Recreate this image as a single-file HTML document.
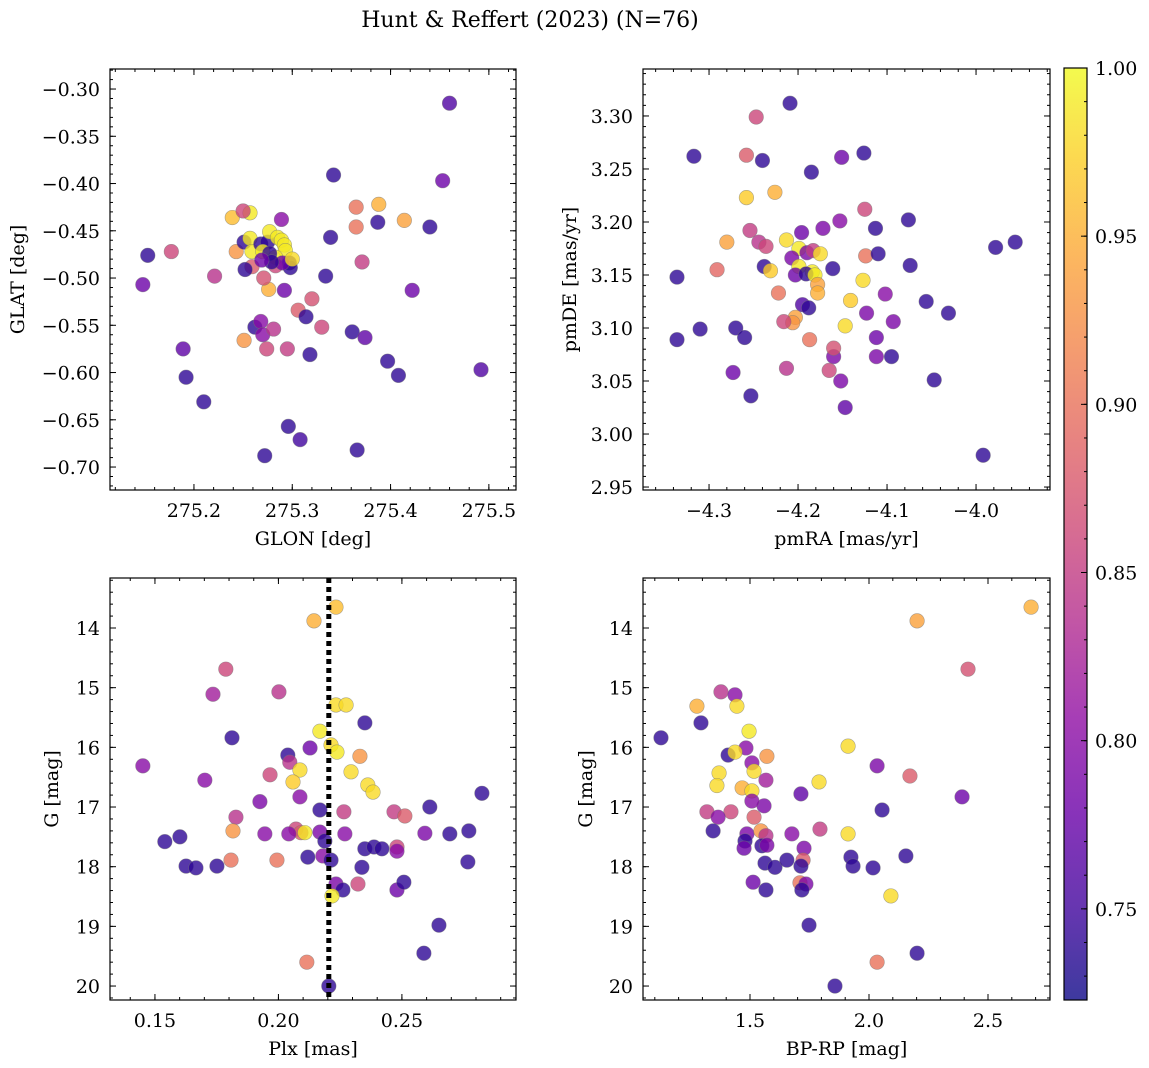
<!DOCTYPE html>
<html><head><meta charset="utf-8"><style>
html,body{margin:0;padding:0;background:#fff}
svg{display:block;font-family:"DejaVu Serif","Liberation Serif",serif}
</style></head><body>
<svg id="fig" width="1149" height="1068" viewBox="0 0 1149 1068" xmlns="http://www.w3.org/2000/svg">
<defs>
<linearGradient id="plasma" x1="0" y1="1" x2="0" y2="0">
<stop offset="0" stop-color="#0d0887"/><stop offset="0.1" stop-color="#41049d"/><stop offset="0.2" stop-color="#6a00a8"/><stop offset="0.3" stop-color="#8f0da4"/><stop offset="0.4" stop-color="#b12a90"/><stop offset="0.5" stop-color="#cc4778"/><stop offset="0.6" stop-color="#e16462"/><stop offset="0.7" stop-color="#f2844b"/><stop offset="0.8" stop-color="#fca636"/><stop offset="0.9" stop-color="#fcce25"/><stop offset="1" stop-color="#f0f921"/>
</linearGradient>
</defs>
<text x="530" y="27" font-size="22" text-anchor="middle">Hunt &amp; Reffert (2023) (N=76)</text>
</svg>
<script>
// ---- data ----
const tlGlon=[275.460,275.453,275.342,275.440,275.414,275.388,275.365,275.365,275.387,275.339,275.371,275.422,275.334,275.320,275.306,275.314,275.330,275.361,275.374,275.318,275.397,275.408,275.492,275.366,275.308,275.296,275.272,275.210,275.192,275.189,275.148,275.153,275.177,275.221,275.251,275.262,275.268,275.270,275.274,275.281,275.295,275.292,275.276,275.271,275.259,275.239,275.257,275.250,275.243,275.251,275.252,275.257,275.259,275.268,275.275,275.270,275.277,275.285,275.289,275.292,275.293,275.283,275.289,275.297,275.298,275.283,275.290,275.277,275.300,275.279,275.269];
const tlGlat=[-0.315,-0.397,-0.391,-0.446,-0.439,-0.422,-0.425,-0.446,-0.441,-0.457,-0.483,-0.513,-0.498,-0.522,-0.534,-0.541,-0.552,-0.557,-0.563,-0.581,-0.588,-0.603,-0.597,-0.682,-0.671,-0.657,-0.688,-0.631,-0.605,-0.575,-0.507,-0.476,-0.472,-0.498,-0.566,-0.552,-0.546,-0.560,-0.575,-0.554,-0.575,-0.513,-0.512,-0.500,-0.488,-0.436,-0.431,-0.429,-0.472,-0.462,-0.491,-0.458,-0.472,-0.464,-0.462,-0.472,-0.451,-0.457,-0.460,-0.465,-0.471,-0.478,-0.438,-0.484,-0.489,-0.487,-0.484,-0.474,-0.480,-0.483,-0.481];
const tlProb=[0.76,0.78,0.74,0.74,0.94,0.95,0.90,0.90,0.74,0.74,0.85,0.78,0.74,0.87,0.88,0.74,0.86,0.74,0.77,0.74,0.74,0.74,0.76,0.74,0.75,0.74,0.74,0.74,0.74,0.77,0.78,0.74,0.86,0.84,0.93,0.74,0.80,0.80,0.86,0.84,0.85,0.78,0.95,0.87,0.88,0.96,0.99,0.86,0.93,0.74,0.74,0.99,0.99,0.74,0.74,0.99,0.99,0.99,0.99,0.99,0.99,0.99,0.80,0.74,0.74,0.86,0.78,0.74,0.98,0.74,0.78];

const trPmra=[-4.209,-4.247,-4.317,-4.258,-4.240,-4.226,-4.258,-4.185,-4.151,-4.126,-4.125,-4.153,-4.076,-4.113,-4.172,-4.196,-4.254,-4.244,-4.236,-4.280,-4.213,-4.199,-4.190,-4.183,-4.207,-4.175,-4.199,-4.184,-4.238,-4.231,-4.203,-4.191,-4.181,-4.161,-4.178,-4.178,-4.124,-4.110,-4.074,-4.127,-4.141,-4.102,-4.056,-4.031,-4.093,-4.123,-4.112,-4.195,-4.188,-4.222,-4.203,-4.206,-4.216,-4.147,-4.187,-4.160,-4.160,-4.112,-4.095,-4.165,-4.213,-4.152,-4.147,-4.270,-4.260,-4.273,-4.253,-4.291,-4.336,-4.310,-4.336,-4.047,-3.978,-3.956,-3.992];
const trPmde=[3.312,3.299,3.262,3.263,3.258,3.228,3.223,3.247,3.261,3.265,3.212,3.201,3.202,3.194,3.194,3.190,3.192,3.181,3.177,3.181,3.183,3.175,3.171,3.173,3.166,3.170,3.158,3.153,3.158,3.154,3.150,3.151,3.150,3.156,3.141,3.133,3.168,3.170,3.159,3.145,3.126,3.132,3.125,3.114,3.106,3.114,3.091,3.122,3.119,3.133,3.110,3.105,3.106,3.102,3.089,3.073,3.081,3.073,3.073,3.060,3.062,3.050,3.025,3.100,3.091,3.058,3.036,3.155,3.148,3.099,3.089,3.051,3.176,3.181,2.980];
const trProb=[0.74,0.86,0.74,0.88,0.74,0.95,0.97,0.74,0.78,0.74,0.86,0.80,0.74,0.74,0.79,0.78,0.85,0.84,0.86,0.94,0.98,0.99,0.79,0.85,0.79,0.98,0.99,0.99,0.74,0.97,0.78,0.74,0.99,0.74,0.94,0.95,0.90,0.74,0.74,0.98,0.97,0.80,0.74,0.74,0.79,0.79,0.78,0.76,0.74,0.90,0.94,0.93,0.86,0.98,0.90,0.79,0.87,0.79,0.74,0.86,0.84,0.79,0.77,0.74,0.74,0.78,0.74,0.89,0.74,0.74,0.74,0.74,0.74,0.74,0.74];

const blPlx=[0.2233,0.2144,0.1787,0.1735,0.2002,0.2233,0.2274,0.2350,0.2168,0.2213,0.2237,0.2128,0.1812,0.2038,0.2046,0.2330,0.2294,0.2087,0.2059,0.1966,0.1451,0.1702,0.2362,0.2383,0.2087,0.1925,0.2824,0.2613,0.2168,0.2265,0.2468,0.2512,0.1828,0.1816,0.1945,0.2071,0.2091,0.2042,0.2107,0.2168,0.2188,0.2269,0.2350,0.2387,0.2419,0.2480,0.2480,0.2593,0.2694,0.2771,0.1540,0.1601,0.1626,0.1666,0.1751,0.1808,0.1994,0.2119,0.2180,0.2213,0.2338,0.2767,0.2233,0.2261,0.2322,0.2480,0.2508,0.2217,0.2650,0.2589,0.2115,0.2204];
const blG=[13.65,13.88,14.69,15.11,15.07,15.29,15.29,15.59,15.73,15.96,16.08,16.01,15.84,16.13,16.25,16.15,16.41,16.38,16.58,16.46,16.31,16.55,16.63,16.75,16.83,16.91,16.77,17.00,17.05,17.08,17.08,17.15,17.17,17.40,17.45,17.37,17.43,17.45,17.43,17.42,17.57,17.45,17.70,17.67,17.70,17.67,17.74,17.44,17.45,17.40,17.58,17.50,17.99,18.02,17.99,17.89,17.89,17.84,17.82,17.89,18.01,17.92,18.29,18.39,18.29,18.39,18.26,18.49,18.98,19.45,19.60,20.00];
const blProb=[0.96,0.95,0.86,0.82,0.84,0.98,0.98,0.74,0.99,0.98,0.99,0.78,0.74,0.74,0.84,0.93,0.98,0.98,0.97,0.86,0.80,0.80,0.98,0.98,0.80,0.79,0.74,0.74,0.74,0.85,0.85,0.88,0.84,0.93,0.80,0.86,0.88,0.80,0.99,0.79,0.74,0.80,0.74,0.74,0.74,0.86,0.80,0.79,0.74,0.74,0.74,0.74,0.74,0.74,0.74,0.90,0.90,0.74,0.80,0.74,0.74,0.74,0.79,0.74,0.86,0.78,0.74,0.99,0.74,0.74,0.90,0.74];
const plxLine=[0.2204];

const brColor=[2.681,2.202,2.416,1.378,1.437,1.277,1.445,1.294,1.496,1.126,1.483,1.408,1.437,1.571,1.508,1.517,1.370,1.567,1.912,1.361,1.467,1.508,1.790,2.034,1.714,2.391,2.172,2.055,1.559,1.508,1.319,1.420,1.517,1.366,1.345,1.487,1.546,1.567,1.479,1.475,1.550,1.571,1.676,1.794,1.912,1.727,1.563,1.605,1.655,1.723,1.714,1.924,1.933,2.017,2.155,1.513,1.710,1.735,1.718,1.567,2.092,1.748,2.202,2.034,1.857];
const brG=[13.65,13.88,14.69,15.07,15.12,15.31,15.31,15.59,15.73,15.84,16.01,16.13,16.08,16.15,16.26,16.40,16.43,16.55,15.98,16.64,16.68,16.73,16.58,16.31,16.78,16.83,16.48,17.05,16.98,16.90,17.08,17.08,17.17,17.17,17.40,17.45,17.40,17.48,17.57,17.69,17.65,17.64,17.45,17.37,17.45,17.69,17.94,18.01,17.89,17.89,17.99,17.84,17.99,18.02,17.82,18.26,18.27,18.29,18.39,18.39,18.49,18.98,19.45,19.60,20.00];
const brProb=[0.95,0.94,0.87,0.84,0.80,0.95,0.98,0.74,0.99,0.74,0.80,0.74,0.98,0.93,0.80,0.98,0.98,0.82,0.98,0.98,0.95,0.98,0.98,0.79,0.77,0.78,0.88,0.74,0.79,0.80,0.85,0.86,0.88,0.80,0.74,0.79,0.93,0.84,0.74,0.78,0.74,0.79,0.80,0.85,0.98,0.79,0.74,0.74,0.74,0.88,0.74,0.74,0.74,0.74,0.74,0.78,0.90,0.79,0.74,0.74,0.98,0.74,0.74,0.90,0.74];

const tlXTicks=[275.2,275.3,275.4,275.5], tlYTicks=[-0.30,-0.35,-0.40,-0.45,-0.50,-0.55,-0.60,-0.65,-0.70];
const trXTicks=[-4.3,-4.2,-4.1,-4.0], trYTicks=[3.30,3.25,3.20,3.15,3.10,3.05,3.00,2.95];
const blXTicks=[0.15,0.20,0.25], gTicks=[14,15,16,17,18,19,20];
const brXTicks=[1.5,2.0,2.5];
const cbTicks=[1.00,0.95,0.90,0.85,0.80,0.75];
const cbMin=0.7229, cbMax=1.0;

// ---- drawing ----
const svg=document.getElementById('fig');
const NS='http://www.w3.org/2000/svg';
const FS=19;
function mk(tag,attrs,parent){const e=document.createElementNS(NS,tag);for(const k in attrs)e.setAttribute(k,attrs[k]);(parent||svg).appendChild(e);return e;}
const stops=[[13,8,135],[65,4,157],[106,0,168],[143,13,164],[177,42,144],[204,71,120],[225,100,98],[242,132,75],[252,166,54],[252,206,37],[240,249,33]];
function plasma(p){let t=(p-cbMin)/(cbMax-cbMin);t=Math.max(0,Math.min(1,t))*10;const i=Math.min(9,Math.floor(t)),f=t-i;const a=stops[i],b=stops[i+1];return 'rgb('+a.map((v,k)=>Math.round(v+(b[k]-v)*f)).join(',')+')';}
function fmt(v,d){return v.toFixed(d).replace('-','\u2212');}

function panel(o){
  const g=mk('g',{});
  
  
  const sx=v=>o.x0+(v-o.xr[0])/(o.xr[1]-o.xr[0])*(o.x1-o.x0);
  const sy=v=>o.y1-(v-o.yr[0])/(o.yr[1]-o.yr[0])*(o.y1-o.y0);
  const clip='clip-'+o.name;
  const cp=mk('clipPath',{id:clip},g);mk('rect',{x:o.x0,y:o.y0,width:o.x1-o.x0,height:o.y1-o.y0},cp);
  const pts=mk('g',{'clip-path':'url(#'+clip+')'},g);
  
  
  for(let i=0;i<o.xs.length;i++){
    const c=mk('circle',{cx:sx(o.xs[i]),cy:sy(o.ys[i]),r:7.3,fill:plasma(o.ps[i]),'fill-opacity':0.8,stroke:'#777','stroke-opacity':0.6,'stroke-width':0.6},pts);
    
    
  }
  if(o.vline){for(const v of o.vline){const l=mk('line',{x1:sx(v),x2:sx(v),y1:o.y0,y2:o.y1,stroke:'#000','stroke-width':5,'stroke-dasharray':'5 4'},g);
    
    }}
  mk('rect',{x:o.x0,y:o.y0,width:o.x1-o.x0,height:o.y1-o.y0,fill:'none',stroke:'#000','stroke-width':1.2},g);
  const lo=Math.min(o.xr[0],o.xr[1]),hi=Math.max(o.xr[0],o.xr[1]);
  for(let v=Math.ceil(lo/o.xm-1e-6)*o.xm;v<=hi;v+=o.xm){const x=sx(v);mk('line',{x1:x,x2:x,y1:o.y1,y2:o.y1-3,stroke:'#000'},g);mk('line',{x1:x,x2:x,y1:o.y0,y2:o.y0+3,stroke:'#000'},g);}
  const ylo=Math.min(o.yr[0],o.yr[1]),yhi=Math.max(o.yr[0],o.yr[1]);
  for(let v=Math.ceil(ylo/o.ym-1e-6)*o.ym;v<=yhi;v+=o.ym){const y=sy(v);mk('line',{x1:o.x0,x2:o.x0+3,y1:y,y2:y,stroke:'#000'},g);mk('line',{x1:o.x1,x2:o.x1-3,y1:y,y2:y,stroke:'#000'},g);}
  for(const v of o.xt){const x=sx(v);mk('line',{x1:x,x2:x,y1:o.y1,y2:o.y1-6,stroke:'#000'},g);mk('line',{x1:x,x2:x,y1:o.y0,y2:o.y0+6,stroke:'#000'},g);
    const t=mk('text',{x:x,y:o.y1+27,'font-size':FS,'text-anchor':'middle'},g);t.textContent=fmt(v,o.xd);
    
    }
  for(const v of o.yt){const y=sy(v);mk('line',{x1:o.x0,x2:o.x0+6,y1:y,y2:y,stroke:'#000'},g);mk('line',{x1:o.x1,x2:o.x1-6,y1:y,y2:y,stroke:'#000'},g);
    const t=mk('text',{x:o.x0-10,y:y+7,'font-size':FS,'text-anchor':'end'},g);t.textContent=fmt(v,o.yd);
    
    }
  const xl=mk('text',{x:(o.x0+o.x1)/2,y:o.y1+55,'font-size':FS,'text-anchor':'middle'},g);xl.textContent=o.xlab;
  
  
  const yl=mk('text',{x:0,y:0,'font-size':FS,'text-anchor':'middle',transform:'translate('+o.ylx+','+((o.y0+o.y1)/2)+') rotate(-90)'},g);yl.textContent=o.ylab;
  
  
}
panel({name:'glon-glat-panel',x0:110,x1:516,y0:69,y1:490,xr:[275.1146,275.5276],yr:[-0.7243,-0.2788],xs:tlGlon,ys:tlGlat,ps:tlProb,xt:tlXTicks,yt:tlYTicks,xd:1,yd:2,xm:0.02,ym:0.01,xlab:'GLON [deg]',ylab:'GLAT [deg]',ylx:24});
panel({name:'pm-panel',x0:643,x1:1050,y0:69,y1:490,xr:[-4.3742,-3.9169],yr:[2.9472,3.3443],xs:trPmra,ys:trPmde,ps:trProb,xt:trXTicks,yt:trYTicks,xd:1,yd:2,xm:0.02,ym:0.01,xlab:'pmRA [mas/yr]',ylab:'pmDE [mas/yr]',ylx:576});
panel({name:'plx-g-panel',x0:110,x1:516,y0:578,y1:1000,xr:[0.1318,0.2962],yr:[20.234,13.162],xs:blPlx,ys:blG,ps:blProb,xt:blXTicks,yt:gTicks,xd:2,yd:0,xm:0.01,ym:0.2,xlab:'Plx [mas]',ylab:'G [mag]',ylx:58,vline:plxLine});
panel({name:'cmd-panel',x0:643,x1:1050,y0:578,y1:1000,xr:[1.0504,2.7605],yr:[20.234,13.162],xs:brColor,ys:brG,ps:brProb,xt:brXTicks,yt:gTicks,xd:1,yd:0,xm:0.1,ym:0.2,xlab:'BP-RP [mag]',ylab:'G [mag]',ylx:592});

// colorbar
const cb=mk('g',{});


const cy0=68,cy1=1000,cx0=1064,cx1=1087;
const csy=v=>cy1-(v-cbMin)/(cbMax-cbMin)*(cy1-cy0);
mk('rect',{x:cx0,y:cy0,width:cx1-cx0,height:cy1-cy0,fill:'url(#plasma)','fill-opacity':0.8},cb);
mk('rect',{x:cx0,y:cy0,width:cx1-cx0,height:cy1-cy0,fill:'none',stroke:'#000','stroke-width':1.2},cb);
for(let v=0.73;v<=1.0001;v+=0.01){const y=csy(v);mk('line',{x1:cx1,x2:cx1-3,y1:y,y2:y,stroke:'#000'},cb);}
for(const v of cbTicks){const y=csy(v);mk('line',{x1:cx1,x2:cx1-6,y1:y,y2:y,stroke:'#000'},cb);
  const t=mk('text',{x:cx1+8,y:y+7,'font-size':FS},cb);t.textContent=v.toFixed(2);
  
  }
</script>
</body></html>
